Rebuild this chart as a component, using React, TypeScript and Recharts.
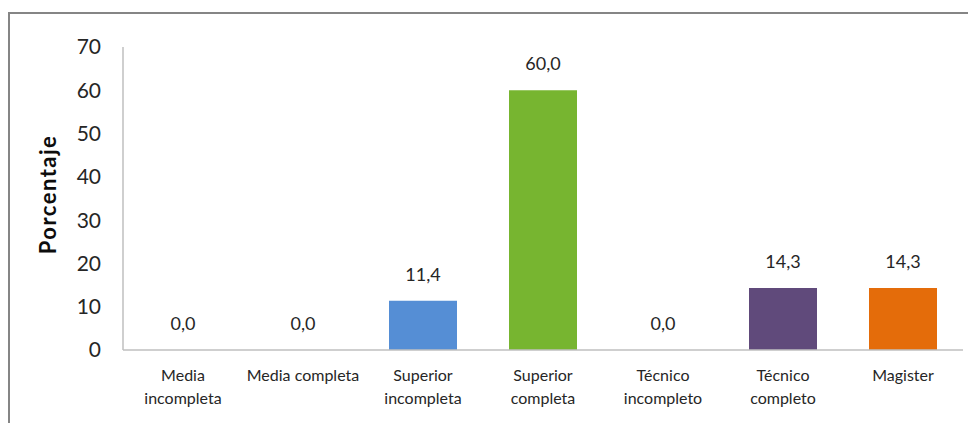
import { ComposedChart, Bar, Line, XAxis, YAxis, LabelList, Cell, Text } from 'recharts';

const CATEGORIES = [
  'Media incompleta',
  'Media completa',
  'Superior incompleta',
  'Superior completa',
  'Técnico incompleto',
  'Técnico completo',
  'Magister',
];
const PERCENTAGES = [0.0, 0.0, 11.4, 60.0, 0.0, 14.3, 14.3];
const BAR_COLORS = ['#558ED5', '#558ED5', '#558ED5', '#77B530', '#604A7B', '#604A7B', '#E46C0A'];
const Y_TICKS = [0, 10, 20, 30, 40, 50, 60, 70];

const FONT = 'Lato, "Open Sans", sans-serif';
const AXIS_GRAY = '#BFBFBF';
const TEXT = '#262626';

const data = CATEGORIES.map((name, i) => ({ name, value: PERCENTAGES[i] }));

const fmt = (v: number) => v.toFixed(1).replace('.', ',');

const CategoryTick = ({ x, y, payload }: any) => (
  <Text
    x={x}
    y={y}
    width={112}
    textAnchor="middle"
    verticalAnchor="start"
    lineHeight={23}
    fontFamily={FONT}
    fontSize={16}
    fill={TEXT}
  >
    {payload.value}
  </Text>
);

const YLabel = ({ viewBox }: any) => {
  const cx = 39;
  const cy = viewBox.y + viewBox.height / 2 - 4;
  return (
    <text
      x={cx}
      y={cy}
      transform={`rotate(-90 ${cx} ${cy})`}
      textAnchor="middle"
      dominantBaseline="central"
      fontFamily={FONT}
      fontSize={22}
      fontWeight={700}
      letterSpacing={1.5}
      fill="#0D0D0D"
    >
      Porcentaje
    </text>
  );
};

export default function App() {
  return (
    <div style={{ position: 'relative', width: 968, height: 415 }}>
      <div
        style={{
          position: 'absolute',
          left: 0,
          top: 4,
          width: 968,
          height: 411,
          borderTop: '2px solid #858585',
          borderLeft: '2px solid #858585',
          boxSizing: 'border-box',
        }}
      />
      <div style={{ position: 'absolute', left: 0, top: 0 }}>
        <ComposedChart
          width={968}
          height={415}
          data={data}
          margin={{ top: 39, right: 13, bottom: 13, left: 0 }}
          barSize={68}
        >
          <XAxis
            dataKey="name"
            axisLine={{ stroke: AXIS_GRAY, strokeWidth: 1.5 }}
            tickLine={false}
            tickSize={0}
            tickMargin={20}
            height={60}
            interval={0}
            tick={<CategoryTick />}
          />
          <YAxis
            domain={[0, 70]}
            ticks={Y_TICKS}
            width={115}
            axisLine={{ stroke: AXIS_GRAY, strokeWidth: 1.5 }}
            tickLine={false}
            tickSize={0}
            tickMargin={22}
            tick={{ fontFamily: FONT, fontSize: 21, fill: TEXT }}
            label={<YLabel />}
          />
          <Bar dataKey="value" isAnimationActive={false}>
            {data.map((d, i) => (
              <Cell key={d.name} fill={BAR_COLORS[i]} />
            ))}
          </Bar>
          {/* invisible series that carries the value labels, so zero bars get one too */}
          <Line
            dataKey="value"
            stroke="none"
            dot={false}
            activeDot={false}
            legendType="none"
            isAnimationActive={false}
          >
            <LabelList
              dataKey="value"
              position="top"
              offset={20}
              formatter={(v: any) => fmt(Number(v))}
              style={{ fontFamily: FONT, fontSize: 18, fill: TEXT }}
            />
          </Line>
        </ComposedChart>
      </div>
    </div>
  );
}
